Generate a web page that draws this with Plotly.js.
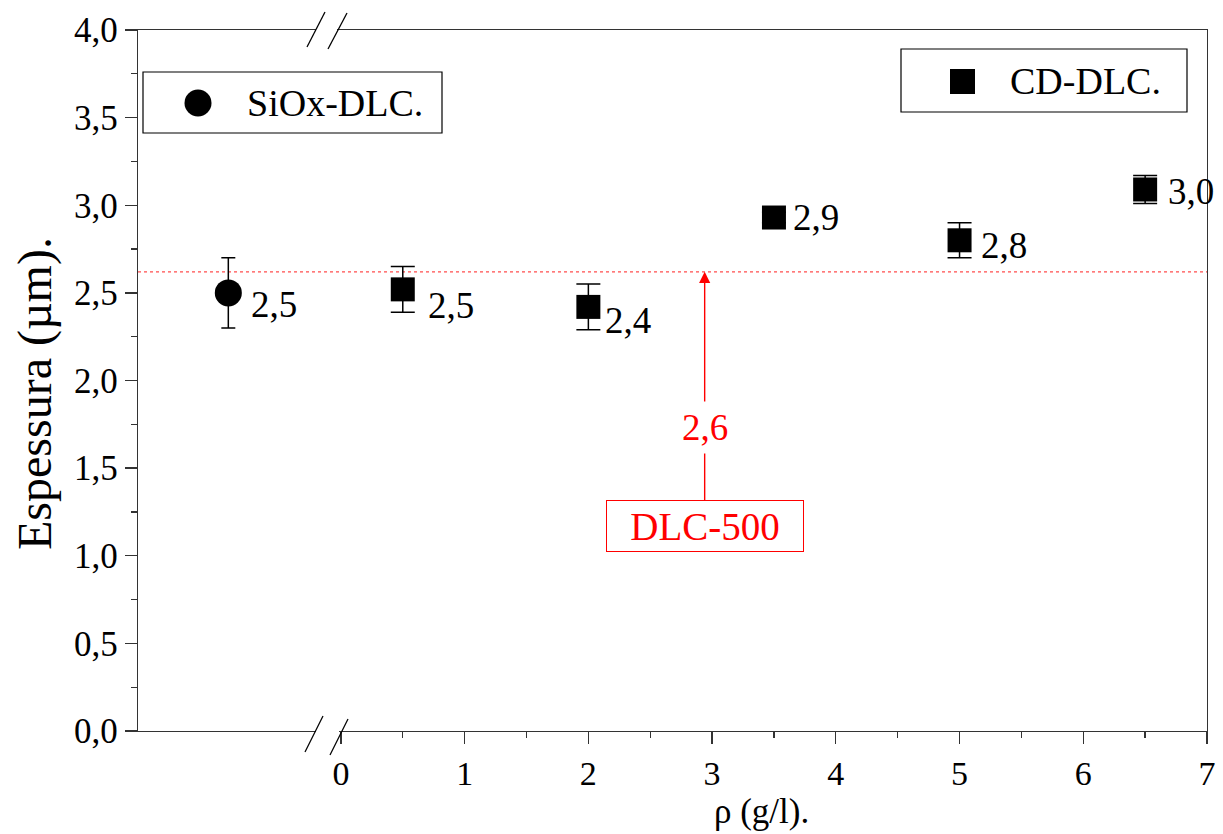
<!DOCTYPE html>
<html>
<head>
<meta charset="utf-8">
<script src="https://cdn.plot.ly/plotly-3.0.1.min.js"></script>
<style>html,body{margin:0;padding:0;background:#fff;}#chart{width:1223px;height:834px;}</style>
</head>
<body>
<div id="chart"></div>
<script>
// ---- data ----
const siName = "SiOx-DLC.";
const siX = [-0.91];
const siY = [2.50];
const siErr = [0.20];
const siLabels = ["2,5"];

const cdName = "CD-DLC.";
const cdX = [0.5, 2, 3.5, 5, 6.5];
const cdY = [2.52, 2.42, 2.93, 2.80, 3.09];
const cdErr = [0.13, 0.13, 0.03, 0.10, 0.08];
const cdLabels = ["2,5", "2,4", "2,9", "2,8", "3,0"];

const refName = "DLC-500";
const refValue = 2.62;
const refLabel = "2,6";
const refX = 2.94;

const xTicks = [0, 1, 2, 3, 4, 5, 6, 7];
const xMinorTicks = [0.5, 1.5, 2.5, 3.5, 4.5, 5.5, 6.5];
const xTitle = "ρ (g/l).";
const yTitle = "Espessura (µm).";

// ---- style / layout ----
const FONT = "'Liberation Serif', 'Times New Roman', Times, serif";
const L = 138, R = 1207, T = 30, B = 731;
const px = v => (v - L) / (R - L);
const py = v => (B - v) / (B - T);

const traces = [
  {
    x: siX, y: siY, type: "scatter", mode: "markers", name: siName, showlegend: false,
    marker: {symbol: "circle", size: 27, color: "#000"},
    error_y: {type: "data", array: siErr, visible: true, color: "#000", thickness: 1.5, width: 7}
  },
  {
    x: cdX, y: cdY, type: "scatter", mode: "markers", name: cdName, showlegend: false,
    marker: {symbol: "square", size: 24, color: "#000"},
    error_y: {type: "data", array: cdErr, visible: true, color: "#000", thickness: 1.5, width: 12}
  }
];

const siShift = [[21, -12]];
const cdShift = [[23, -16], [15, -14], [17, 0], [19, -5], [21, -2]];

const annotations = [];
siX.forEach((x, i) => annotations.push({
  x: x, y: siY[i], xref: "x", yref: "y", text: siLabels[i], showarrow: false,
  xanchor: "left", yanchor: "middle", xshift: siShift[i][0], yshift: siShift[i][1],
  font: {family: FONT, size: 37, color: "#000"}
}));
cdX.forEach((x, i) => annotations.push({
  x: x, y: cdY[i], xref: "x", yref: "y", text: cdLabels[i], showarrow: false,
  xanchor: "left", yanchor: "middle", xshift: cdShift[i][0], yshift: cdShift[i][1],
  font: {family: FONT, size: 37, color: "#000"}
}));
// reference arrow + box
annotations.push({
  x: refX, y: refValue, xref: "x", yref: "y", text: refName,
  showarrow: true, axref: "pixel", ayref: "pixel", ax: 0, ay: 254,
  arrowhead: 2, arrowsize: 1.6, arrowwidth: 1.4, arrowcolor: "#ff0000", standoff: 0,
  font: {family: FONT, size: 39, color: "#ff0000"},
  bordercolor: "#ff0000", borderwidth: 1, borderpad: 0, width: 196, height: 50, bgcolor: "#fff"
});
annotations.push({
  x: refX, y: 1.729, xref: "x", yref: "y", text: refLabel, showarrow: false,
  font: {family: FONT, size: 37, color: "#ff0000"}, bgcolor: "#fff", borderpad: 5
});
// x title centered over the right-hand segment
annotations.push({
  x: 3.4, y: py(790), xref: "x", yref: "paper",
  text: xTitle, showarrow: false, xanchor: "center", yanchor: "top",
  font: {family: FONT, size: 35, color: "#000"}
});
// y title
annotations.push({
  x: px(35), y: py(394), xref: "paper", yref: "paper",
  text: yTitle, showarrow: false, textangle: -90, xanchor: "center", yanchor: "middle",
  font: {family: FONT, size: 48, color: "#000"}
});
// legend texts
annotations.push({x: px(245), y: py(103), xref: "paper", yref: "paper", text: siName, showarrow: false,
  xanchor: "left", yanchor: "middle", font: {family: FONT, size: 38, color: "#000"}});
annotations.push({x: px(1008), y: py(81), xref: "paper", yref: "paper", text: cdName, showarrow: false,
  xanchor: "left", yanchor: "middle", font: {family: FONT, size: 38, color: "#000"}});

const shapes = [
  // reference dotted line
  {type: "line", xref: "paper", yref: "y", x0: 0, x1: 1, y0: refValue, y1: refValue,
   line: {color: "rgba(255,0,0,0.7)", width: 1.3, dash: "dot"}, layer: "below"},
  // legend boxes
  {type: "rect", xref: "paper", yref: "paper", x0: px(143), x1: px(442), y0: py(72), y1: py(133),
   line: {color: "#000", width: 1.2}, fillcolor: "#fff", layer: "above"},
  {type: "circle", xref: "paper", yref: "paper", x0: px(184.5), x1: px(211.5), y0: py(89.5), y1: py(116.5),
   line: {color: "#000", width: 0}, fillcolor: "#000", layer: "above"},
  {type: "rect", xref: "paper", yref: "paper", x0: px(901), x1: px(1187), y0: py(49), y1: py(112),
   line: {color: "#000", width: 1.2}, fillcolor: "#fff", layer: "above"},
  {type: "rect", xref: "paper", yref: "paper", x0: px(950), x1: px(975), y0: py(69), y1: py(94),
   line: {color: "#000", width: 0}, fillcolor: "#000", layer: "above"},
  // axis break: white gaps
  {type: "rect", xref: "paper", yref: "paper", x0: px(316), x1: px(339), y0: py(734), y1: py(728),
   line: {width: 0}, fillcolor: "#fff", layer: "above"},
  {type: "rect", xref: "paper", yref: "paper", x0: px(316), x1: px(337), y0: py(33), y1: py(27),
   line: {width: 0}, fillcolor: "#fff", layer: "above"},
  // axis break: slashes
  {type: "line", xref: "paper", yref: "paper", x0: px(305), y0: py(752), x1: px(323), y1: py(716),
   line: {color: "#000", width: 1.3}, layer: "above"},
  {type: "line", xref: "paper", yref: "paper", x0: px(330), y0: py(755), x1: px(348), y1: py(719),
   line: {color: "#000", width: 1.3}, layer: "above"},
  {type: "line", xref: "paper", yref: "paper", x0: px(307), y0: py(47), x1: px(325), y1: py(12),
   line: {color: "#000", width: 1.3}, layer: "above"},
  {type: "line", xref: "paper", yref: "paper", x0: px(328), y0: py(49), x1: px(347), y1: py(13),
   line: {color: "#000", width: 1.3}, layer: "above"}
];

const layout = {
  width: 1223, height: 834,
  margin: {l: L, r: 1223 - R, t: T, b: 834 - B, pad: 0},
  paper_bgcolor: "#fff", plot_bgcolor: "#fff",
  separators: ", ",
  showlegend: false,
  font: {family: FONT, color: "#000"},
  xaxis: {
    range: [-1.64, 7.0], showgrid: false, zeroline: false,
    showline: true, linecolor: "#333", linewidth: 1.3, mirror: true,
    tickmode: "array", tickvals: xTicks, ticktext: xTicks.map(String),
    ticks: "outside", ticklen: 12, tickwidth: 1.3, tickcolor: "#333",
    tickfont: {family: FONT, size: 34, color: "#000"},
    minor: {tickmode: "array", tickvals: xMinorTicks, ticks: "outside", ticklen: 6, tickwidth: 1.3, tickcolor: "#333", showgrid: false}
  },
  yaxis: {
    range: [0, 4.0], showgrid: false, zeroline: false,
    showline: true, linecolor: "#333", linewidth: 1.3, mirror: true,
    tickmode: "linear", tick0: 0, dtick: 0.5, tickformat: ".1f",
    ticks: "outside", ticklen: 12, tickwidth: 1.3, tickcolor: "#333",
    tickfont: {family: FONT, size: 35, color: "#000"},
    minor: {dtick: 0.25, ticks: "outside", ticklen: 6, tickwidth: 1.3, tickcolor: "#333", showgrid: false}
  },
  annotations: annotations,
  shapes: shapes
};

Plotly.newPlot("chart", traces, layout, {displayModeBar: false, staticPlot: true});
</script>
</body>
</html>
